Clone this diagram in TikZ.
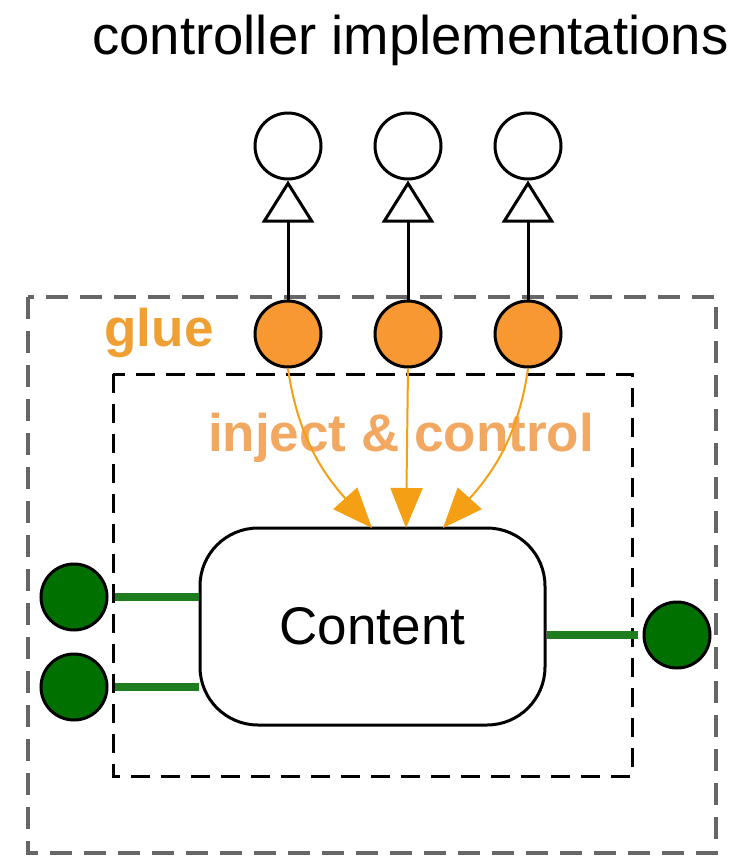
\documentclass[tikz,border=0pt]{standalone}
\usepackage{fontspec}
\setmainfont{Liberation Sans}
\usetikzlibrary{arrows.meta}
\definecolor{orfill}{RGB}{247,152,51}
\definecolor{orarrow}{RGB}{245,160,20}
\definecolor{ortext}{RGB}{240,160,50}
\definecolor{ortextlight}{RGB}{242,168,96}
\definecolor{grfill}{RGB}{0,112,0}
\definecolor{grline}{RGB}{30,125,30}
\tikzset{
  bigfont/.style={font=\fontsize{53}{60}\selectfont},
  outerbox/.style={draw=black!60, line width=3.8pt, dash pattern=on 22pt off 12pt},
  innerbox/.style={draw=black, line width=3pt, dash pattern=on 19pt off 11pt},
  whitecirc/.style={circle, draw=black, line width=3pt, fill=white, minimum size=66pt, inner sep=0pt},
  orcirc/.style={circle, draw=black, line width=3pt, fill=orfill, minimum size=66pt, inner sep=0pt},
  grcirc/.style={circle, draw=black, line width=3pt, fill=grfill, minimum size=66pt, inner sep=0pt},
  realize/.style={draw=black, line width=3pt, -{Triangle[open, length=42pt, width=52pt, line width=3pt]}},
  inject/.style={draw=orarrow, line width=2pt, -{Triangle[length=40pt, width=32pt]}},
  grconn/.style={draw=grline, line width=8pt},
  contentbox/.style={draw=black, line width=3pt, rounded corners=58pt, minimum width=345pt, minimum height=197pt, fill=white}
}
\begin{document}
\begin{tikzpicture}[x=1pt,y=-1pt]
\useasboundingbox (0,0) rectangle (746,857);
% boxes
\draw[outerbox] (28,297) rectangle (716,853);
\draw[innerbox] (113,374) rectangle (632,776);
% texts
\node[font=\fontsize{54.5}{60}\selectfont] (title) at (410.5,40) {controller implementations};
\node[bigfont, font=\fontsize{53}{60}\selectfont\bfseries, text=ortext] (glue) at (159,333) {glue};
\node[bigfont, font=\fontsize{53}{60}\selectfont\bfseries, text=ortextlight] (injtext) at (401,438) {inject \& control};
% content
\node[contentbox, bigfont] (content) at (372.5,626.5) {Content};
% nodes
\node[whitecirc] (w1) at (288,146) {};
\node[whitecirc] (w2) at (408,146) {};
\node[whitecirc] (w3) at (528,146) {};
\node[orcirc] (o1) at (288,334) {};
\node[orcirc] (o2) at (408,334) {};
\node[orcirc] (o3) at (528,334) {};
\node[grcirc] (g1) at (74,597) {};
\node[grcirc] (g2) at (74,687) {};
\node[grcirc] (g3) at (677,635) {};
% realization lines
\draw[realize] (o1.north) -- (w1.south);
\draw[realize] (o2.north) -- (w2.south);
\draw[realize] (o3.north) -- (w3.south);
% inject arrows
\coordinate (t1) at (372,528);
\coordinate (t2) at (406,528);
\coordinate (t3) at (443,528);
\draw[inject] (o1.south) to[out=-82, in=132] (t1);
\draw[inject] (o2.south) -- (t2);
\draw[inject] (o3.south) to[out=-98, in=48] (t3);
% green connectors
\coordinate (c1) at (115,597);
\coordinate (c2) at (115,687);
\coordinate (c3) at (638,635);
\draw[grconn] (c1) -- (content.west |- c1);
\draw[grconn] (c2) -- (content.west |- c2);
\draw[grconn] (content.east |- c3) -- (c3);
\end{tikzpicture}
\end{document}
